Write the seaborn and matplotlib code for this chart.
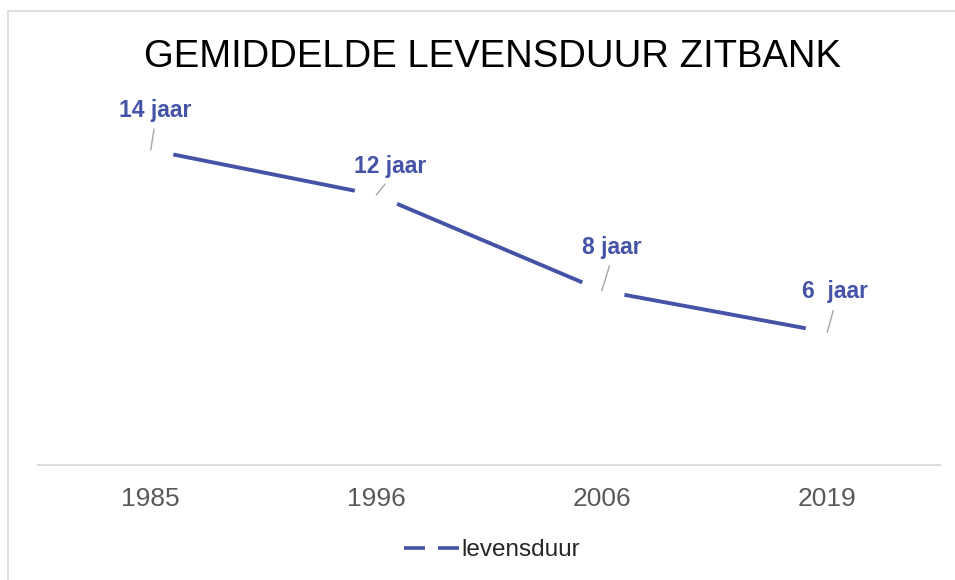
"""
plot.py – Gemiddelde levensduur zitbank (line chart with data labels).

Writes out.png (955x580).
"""
import matplotlib
matplotlib.use("Agg")
import matplotlib.pyplot as plt
from matplotlib.lines import Line2D
from matplotlib.patches import Rectangle
import pandas as pd
import seaborn as sns


# ── Data ──────────────────────────────────────────────────────────────────────

years = ["1985", "1996", "2006", "2019"]
levensduur = [14, 12, 7.75, 5.9]
point_labels = ["14 jaar", "12 jaar", "8 jaar", "6  jaar"]

# label offsets in pixels (dx right, dy up) relative to each point
label_offsets_px = [(4.5, 33.5), (14, 22.5), (10, 37), (8, 34)]

LINE_COLOUR = "#4553a7"
GRID_GREY = "#d9d9d9"
DPI = 100


# ── Style ─────────────────────────────────────────────────────────────────────

sns.set_theme(style="white")
plt.rcParams["font.family"] = ["Liberation Sans", "DejaVu Sans"]
plt.rcParams["lines.scale_dashes"] = False


# ── Plot ──────────────────────────────────────────────────────────────────────

df = pd.DataFrame({"jaar": years, "levensduur": levensduur})

fig = plt.figure(figsize=(9.55, 5.8), dpi=DPI)
ax = fig.add_axes([38 / 955, (580 - 465) / 580, (940 - 38) / 955, 360 / 580])

# white markers knock the line out around each data point
sns.lineplot(data=df, x="jaar", y="levensduur", ax=ax, sort=False,
             color=LINE_COLOUR, linewidth=2.8, marker="o", markersize=32,
             markerfacecolor="white", markeredgewidth=0, legend=False)

ax.set_xlim(-0.5, len(years) - 0.5)
ax.set_ylim(0, 16)
ax.set_xlabel("")
ax.set_ylabel("")
ax.set_yticks([])
ax.tick_params(axis="x", length=0, pad=16, labelsize=19, labelcolor="#595959")

for side in ("top", "left", "right"):
    ax.spines[side].set_visible(False)
ax.spines["bottom"].set_color(GRID_GREY)
ax.spines["bottom"].set_linewidth(1.3)

# data labels with grey leader lines
for i, (txt, val) in enumerate(zip(point_labels, levensduur)):
    dx, dy = label_offsets_px[i]
    ax.annotate(txt, xy=(i, val),
                xytext=(dx * 72 / DPI, dy * 72 / DPI), textcoords="offset points",
                ha="center", va="baseline", fontsize=16.5, fontweight="bold",
                color=LINE_COLOUR, zorder=5,
                arrowprops=dict(arrowstyle="-", color="#a6a6a6", lw=1.0,
                                relpos=(0.5, 0.0), shrinkA=3, shrinkB=0))

# title
fig.text(492.5 / 955, 1 - 67 / 580, "GEMIDDELDE LEVENSDUUR ZITBANK",
         ha="center", va="baseline", fontsize=27.5, color="black")

# legend: line broken in the middle, as in the chart
handle = Line2D([], [], color=LINE_COLOUR, linewidth=2.6,
                linestyle=(0, (15.1, 9.4, 15.1, 9.4)))
fig.legend([handle], ["levensduur"], loc="center",
           bbox_to_anchor=(492 / 955, 1 - 550 / 580), frameon=False,
           fontsize=17.5, handlelength=2.25, handletextpad=0.1)

# light chart border
fig.patches.append(Rectangle((8 / 955, -0.1), 1.2, 1.1 - 11 / 580,
                             transform=fig.transFigure, fill=False,
                             edgecolor=GRID_GREY, linewidth=1.2))

fig.savefig("out.png", dpi=DPI)
plt.close(fig)
